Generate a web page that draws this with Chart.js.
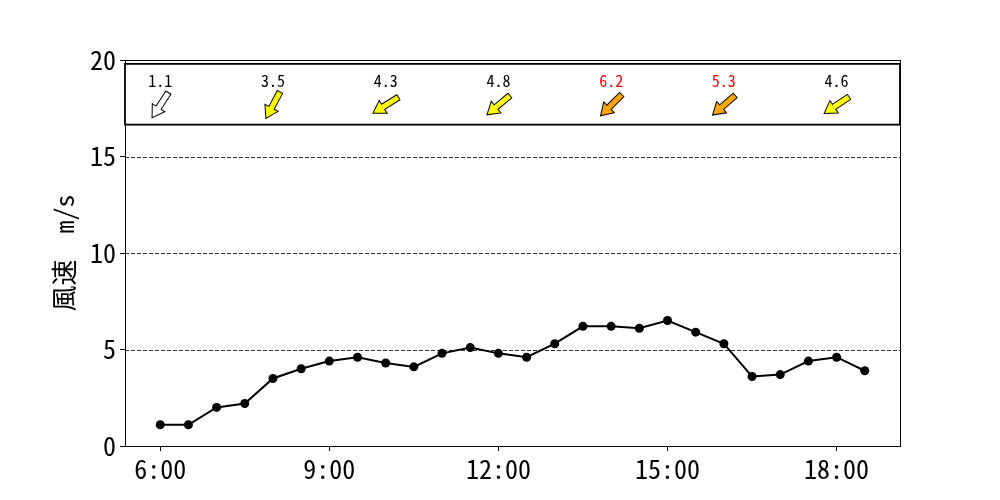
<!DOCTYPE html>
<html>
<head>
<meta charset="utf-8">
<script src="https://cdn.jsdelivr.net/npm/chart.js@4/dist/chart.umd.min.js"></script>
<style>
html,body{margin:0;padding:0;background:#fff;}
#wrap{width:1000px;height:500px;}
</style>
</head>
<body>
<div id="wrap"><canvas id="c" width="1000" height="500"></canvas></div>
<script>
// ---- data ----
const times = [6,6.5,7,7.5,8,8.5,9,9.5,10,10.5,11,11.5,12,12.5,13,13.5,14,14.5,15,15.5,16,16.5,17,17.5,18,18.5];
const speeds = [1.1,1.1,2.0,2.2,3.5,4.0,4.4,4.6,4.3,4.1,4.8,5.1,4.8,4.6,5.3,6.2,6.2,6.1,6.5,5.9,5.3,3.6,3.7,4.4,4.6,3.9];
const arrowTimes = [6,8,10,12,14,16,18];
const arrowSpeeds = [1.1,3.5,4.3,4.8,6.2,5.3,4.6];
const arrowDirs = [33,28,58,50,45,49,56]; // wind-from direction, degrees clockwise from north
const xTickValues = [6,9,12,15,18];
const xTickLabels = ['6:00','9:00','12:00','15:00','18:00'];
const yTickValues = [0,5,10,15,20];
const yLabel = '風速　m/s';

const FONT = '"Noto Sans Mono CJK JP", "Noto Sans Mono", "DejaVu Sans Mono", monospace';

function arrowFill(v){ return v < 2 ? '#ffffff' : (v < 5 ? '#ffff00' : '#ffa500'); }
function labelColor(v){ return v >= 5 ? '#ff0000' : '#000000'; }

const decor = {
  id:'decor',
  beforeDatasetsDraw(chart){
    const {ctx, chartArea:a, scales:{y}} = chart;
    ctx.save();
    ctx.strokeStyle = '#000';
    ctx.lineWidth = 0.8;
    ctx.setLineDash([4,2]);
    yTickValues.forEach(v=>{
      if (v === y.min || v === y.max) return;
      const py = Math.round(y.getPixelForValue(v)) + 0.5;
      ctx.beginPath(); ctx.moveTo(a.left, py); ctx.lineTo(a.right, py); ctx.stroke();
    });
    ctx.restore();
  },
  afterDraw(chart){
    const {ctx, chartArea:a, scales:{x,y}} = chart;
    ctx.save();
    // frame
    ctx.strokeStyle = '#000';
    ctx.lineWidth = 1;
    ctx.strokeRect(a.left+0.5, a.top+0.5, a.right-a.left, a.bottom-a.top);
    // wind panel
    const pTop = y.getPixelForValue(19.8), pBot = y.getPixelForValue(16.65);
    ctx.fillStyle = '#fff';
    ctx.fillRect(a.left, pTop, a.right-a.left, pBot-pTop);
    ctx.lineWidth = 1.8;
    ctx.strokeRect(a.left, pTop, a.right-a.left, pBot-pTop);
    const labelY = pTop + (pBot-pTop)*0.28;
    const arrowY = pTop + (pBot-pTop)*0.68;
    arrowTimes.forEach((t,i)=>{
      const px = x.getPixelForValue(t);
      const v = arrowSpeeds[i];
      ctx.fillStyle = labelColor(v);
      ctx.font = '16px ' + FONT;
      ctx.textAlign = 'center';
      ctx.textBaseline = 'middle';
      ctx.fillText(v.toFixed(1), px, labelY);
      // arrow: points toward dir+180
      const th = arrowDirs[i]*Math.PI/180;
      const dx = -Math.sin(th), dy = Math.cos(th);
      const ang = Math.atan2(dy, dx);
      ctx.save();
      ctx.translate(px, arrowY);
      ctx.rotate(ang);
      const L = 30, hl = 12, hw = 7.5, sw = 3;
      ctx.beginPath();
      ctx.moveTo(-L/2, -sw);
      ctx.lineTo(L/2-hl, -sw);
      ctx.lineTo(L/2-hl, -hw);
      ctx.lineTo(L/2, 0);
      ctx.lineTo(L/2-hl, hw);
      ctx.lineTo(L/2-hl, sw);
      ctx.lineTo(-L/2, sw);
      ctx.closePath();
      ctx.fillStyle = arrowFill(v);
      ctx.fill();
      ctx.lineWidth = 1;
      ctx.strokeStyle = '#000';
      ctx.lineJoin = 'miter';
      ctx.stroke();
      ctx.restore();
    });
    ctx.restore();
  }
};

new Chart(document.getElementById('c'), {
  type:'line',
  data:{
    datasets:[{
      data: times.map((t,i)=>({x:t, y:speeds[i]})),
      borderColor:'#000',
      backgroundColor:'#000',
      borderWidth:2,
      pointRadius:4.5,
      pointHoverRadius:4.5,
      pointBackgroundColor:'#000',
      pointBorderWidth:0,
      tension:0,
      clip:false
    }]
  },
  options:{
    responsive:false,
    animation:false,
    devicePixelRatio:1,
    layout:{padding:{left:45, right:100, top:60, bottom:0}},
    plugins:{legend:{display:false}, tooltip:{enabled:false}},
    scales:{
      x:{
        type:'linear',
        min:5.375, max:19.125,
        afterBuildTicks(s){ s.ticks = xTickValues.map(v=>({value:v})); },
        afterFit(s){ s.height = 54; },
        grid:{drawOnChartArea:false, drawTicks:true, tickLength:5, color:'#000', tickColor:'#000', tickWidth:1},
        border:{display:false},
        ticks:{
          padding:3,
          color:'#000',
          maxRotation:0,
          autoSkip:false,
          font:{family:FONT, size:26},
          callback(v){ const k = xTickValues.indexOf(v); return k>=0 ? xTickLabels[k] : ''; }
        }
      },
      y:{
        min:0, max:20,
        afterBuildTicks(s){ s.ticks = yTickValues.map(v=>({value:v})); },
        afterFit(s){ s.width = 80; },
        grid:{drawOnChartArea:false, drawTicks:true, tickLength:5, color:'#000', tickColor:'#000', tickWidth:1},
        border:{display:false},
        title:{display:true, text:yLabel, color:'#000', font:{family:FONT, size:26}, padding:{top:4,bottom:4}},
        ticks:{padding:4, color:'#000', font:{family:FONT, size:26}}
      }
    }
  },
  plugins:[decor]
});
</script>
</body>
</html>
